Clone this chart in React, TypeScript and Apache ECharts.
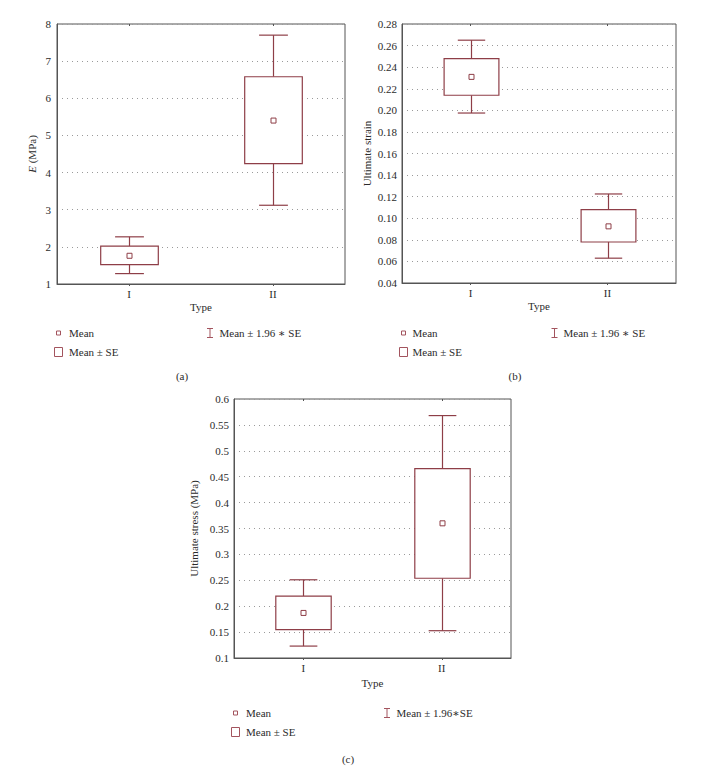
import { useEffect, useRef } from 'react';
import * as echarts from 'echarts';

// ---------- data ----------
const typeCategories = ['I', 'II'];

// (a) Young's modulus E (MPa)
const modulusMean = [1.76, 5.4];
const modulusSeLow = [1.52, 4.24];
const modulusSeHigh = [2.02, 6.58];
const modulusCiLow = [1.28, 3.12];
const modulusCiHigh = [2.27, 7.7];

// (b) Ultimate strain
const strainMean = [0.231, 0.0925];
const strainSeLow = [0.214, 0.078];
const strainSeHigh = [0.248, 0.108];
const strainCiLow = [0.1975, 0.063];
const strainCiHigh = [0.265, 0.1225];

// (c) Ultimate stress (MPa)
const stressMean = [0.187, 0.36];
const stressSeLow = [0.1546, 0.254];
const stressSeHigh = [0.2195, 0.4657];
const stressCiLow = [0.123, 0.1527];
const stressCiHigh = [0.251, 0.568];

const legendLabels = ['Mean', 'Mean ± SE', 'Mean ± 1.96 ∗ SE'];
const panelCaptions = ['(a)', '(b)', '(c)'];

// ---------- styles ----------
const FONT = '"Liberation Serif", "DejaVu Serif", "Times New Roman", serif';
const BOX_COLOR = '#8e3e47';
const LEGEND_COLOR = '#a3545e';
const AXIS_COLOR = '#555555';
const GRID_COLOR = '#9a9a9a';
const TEXT_COLOR = '#2b2b2b';

function buildRows(mean: number[], seLow: number[], seHigh: number[], ciLow: number[], ciHigh: number[]) {
  return typeCategories.map((_, i) => [i, ciLow[i], seLow[i], mean[i], seHigh[i], ciHigh[i]]);
}

const renderBox = (_params: any, api: any) => {
  const idx = api.value(0);
  const pCiLow = api.coord([idx, api.value(1)]);
  const pSeLow = api.coord([idx, api.value(2)]);
  const pMean = api.coord([idx, api.value(3)]);
  const pSeHigh = api.coord([idx, api.value(4)]);
  const pCiHigh = api.coord([idx, api.value(5)]);
  const catW = api.size([1, 0])[0];
  const boxW = catW * 0.4;
  const capW = boxW * 0.5;
  const cx = Math.round(pMean[0]) + 0.5;
  const style = { stroke: BOX_COLOR, fill: 'none', lineWidth: 1.2 };
  return {
    type: 'group',
    children: [
      { type: 'line', shape: { x1: cx, y1: pSeHigh[1], x2: cx, y2: pCiHigh[1] }, style },
      { type: 'line', shape: { x1: cx - capW / 2, y1: pCiHigh[1], x2: cx + capW / 2, y2: pCiHigh[1] }, style },
      { type: 'line', shape: { x1: cx, y1: pSeLow[1], x2: cx, y2: pCiLow[1] }, style },
      { type: 'line', shape: { x1: cx - capW / 2, y1: pCiLow[1], x2: cx + capW / 2, y2: pCiLow[1] }, style },
      {
        type: 'rect',
        shape: { x: cx - boxW / 2, y: pSeHigh[1], width: boxW, height: pSeLow[1] - pSeHigh[1] },
        style: { ...style, fill: '#ffffff' },
      },
      {
        type: 'rect',
        shape: { x: cx - 2.5, y: pMean[1] - 2.5, width: 5, height: 5 },
        style: { ...style, fill: '#ffffff', lineWidth: 1 },
      },
    ],
  };
};

type PanelSpec = {
  grid: { left: number; top: number; width: number; height: number };
  min: number;
  max: number;
  interval: number;
  formatter: (v: number) => string;
  name: string;
  nameGap: number;
  labelMargin: number;
  xNameGap: number;
  rows: number[][];
};

const panels: PanelSpec[] = [
  {
    grid: { left: 57, top: 24, width: 288, height: 260 },
    min: 1,
    max: 8,
    interval: 1,
    formatter: (v) => String(v),
    name: '{i|E} (MPa)',
    nameGap: 20,
    labelMargin: 6,
    xNameGap: 17,
    rows: buildRows(modulusMean, modulusSeLow, modulusSeHigh, modulusCiLow, modulusCiHigh),
  },
  {
    grid: { left: 402, top: 24, width: 274, height: 259 },
    min: 0.04,
    max: 0.28,
    interval: 0.02,
    formatter: (v) => v.toFixed(2),
    name: 'Ultimate strain',
    nameGap: 30,
    labelMargin: 5,
    xNameGap: 17,
    rows: buildRows(strainMean, strainSeLow, strainSeHigh, strainCiLow, strainCiHigh),
  },
  {
    grid: { left: 234, top: 399, width: 277, height: 259 },
    min: 0.1,
    max: 0.6,
    interval: 0.05,
    formatter: (v) => String(Math.round(v * 100) / 100),
    name: 'Ultimate stress (MPa)',
    nameGap: 35,
    labelMargin: 5,
    xNameGap: 19,
    rows: buildRows(stressMean, stressSeLow, stressSeHigh, stressCiLow, stressCiHigh),
  },
];

type LegendPos = {
  markX: number;
  row1: number;
  row2: number;
  textX: number;
  ciX: number;
  ciTextX: number;
  capX: number;
  capY: number;
  ciLabel: string;
};

const legendPositions: LegendPos[] = [
  { markX: 58.5, row1: 333, row2: 352, textX: 69, ciX: 210, ciTextX: 219.5, capX: 182, capY: 376, ciLabel: legendLabels[2] },
  { markX: 403.5, row1: 333, row2: 352, textX: 412.5, ciX: 554.5, ciTextX: 563.5, capX: 515, capY: 376, ciLabel: legendLabels[2] },
  { markX: 235.5, row1: 713, row2: 732, textX: 246, ciX: 387, ciTextX: 396.5, capX: 348, capY: 759, ciLabel: 'Mean ± 1.96∗SE' },
];

function textEl(text: string, x: number, y: number, align: string = 'left') {
  return {
    type: 'text',
    silent: true,
    style: {
      text,
      x,
      y,
      fill: TEXT_COLOR,
      fontSize: 11,
      fontFamily: FONT,
      textAlign: align,
      textVerticalAlign: 'middle',
      align,
      verticalAlign: 'middle',
    },
  };
}

function legendElements(p: LegendPos, caption: string) {
  const st = { stroke: LEGEND_COLOR, fill: 'none', lineWidth: 1 };
  return [
    { type: 'rect', silent: true, shape: { x: p.markX - 2, y: p.row1 - 2, width: 4, height: 4 }, style: st },
    textEl(legendLabels[0], p.textX, p.row1),
    { type: 'rect', silent: true, shape: { x: p.markX - 4, y: p.row2 - 4.5, width: 8, height: 9 }, style: st },
    textEl(legendLabels[1], p.textX, p.row2),
    { type: 'line', silent: true, shape: { x1: p.ciX, y1: p.row1 - 4.5, x2: p.ciX, y2: p.row1 + 4.5 }, style: st },
    { type: 'line', silent: true, shape: { x1: p.ciX - 3, y1: p.row1 - 4.5, x2: p.ciX + 3, y2: p.row1 - 4.5 }, style: st },
    { type: 'line', silent: true, shape: { x1: p.ciX - 3, y1: p.row1 + 4.5, x2: p.ciX + 3, y2: p.row1 + 4.5 }, style: st },
    textEl(p.ciLabel, p.ciTextX, p.row1),
    textEl(caption, p.capX, p.capY, 'center'),
  ];
}

export default function App() {
  const ref = useRef<HTMLDivElement>(null);

  useEffect(() => {
    if (!ref.current) return;
    const chart = echarts.init(ref.current, undefined, { renderer: 'svg' });

    const grid: any[] = [];
    const xAxis: any[] = [];
    const yAxis: any[] = [];
    const series: any[] = [];

    panels.forEach((p, i) => {
      grid.push({
        ...p.grid,
        show: true,
        borderColor: AXIS_COLOR,
        borderWidth: 1,
        backgroundColor: 'transparent',
      });
      xAxis.push({
        type: 'category',
        gridIndex: i,
        data: typeCategories,
        name: 'Type',
        nameLocation: 'middle',
        nameGap: p.xNameGap,
        nameTextStyle: { color: TEXT_COLOR, fontSize: 11, fontFamily: FONT },
        axisLine: { show: true, lineStyle: { color: AXIS_COLOR, width: 1 } },
        axisTick: { show: true, alignWithLabel: true, length: 2, lineStyle: { color: AXIS_COLOR } },
        axisLabel: { color: TEXT_COLOR, fontSize: 11, fontFamily: FONT, margin: 4 },
        splitLine: { show: false },
      });
      xAxis.push({
        type: 'category',
        gridIndex: i,
        position: 'top',
        data: typeCategories,
        axisLine: { show: false },
        axisTick: { show: true, inside: true, alignWithLabel: true, length: 2, lineStyle: { color: AXIS_COLOR } },
        axisLabel: { show: false },
        splitLine: { show: false },
      });
      yAxis.push({
        type: 'value',
        gridIndex: i,
        min: p.min,
        max: p.max,
        interval: p.interval,
        name: p.name,
        nameLocation: 'middle',
        nameGap: p.nameGap,
        nameTextStyle: {
          color: TEXT_COLOR,
          fontSize: 11,
          fontFamily: FONT,
          rich: { i: { fontStyle: 'italic', fontSize: 11, fontFamily: FONT, color: TEXT_COLOR } },
        },
        axisLine: { show: true, lineStyle: { color: AXIS_COLOR, width: 1 } },
        axisTick: { show: false },
        axisLabel: { color: TEXT_COLOR, fontSize: 11, fontFamily: FONT, margin: p.labelMargin, formatter: p.formatter },
        splitLine: { show: true, lineStyle: { color: GRID_COLOR, width: 1, type: [1, 4] } },
      });
      series.push({
        type: 'custom',
        name: p.name,
        xAxisIndex: i * 2,
        yAxisIndex: i,
        renderItem: renderBox,
        encode: { x: 0, y: [1, 2, 3, 4, 5] },
        data: p.rows,
        clip: false,
      });
    });

    const graphic: any[] = [];
    legendPositions.forEach((lp, i) => {
      graphic.push(...legendElements(lp, panelCaptions[i]));
    });

    chart.setOption({
      animation: false,
      backgroundColor: '#ffffff',
      textStyle: { fontFamily: FONT },
      grid,
      xAxis,
      yAxis,
      series,
      graphic,
    });

    return () => chart.dispose();
  }, []);

  return (
    <div
      ref={ref}
      style={{ position: 'fixed', left: 0, top: 0, width: 710, height: 773, background: '#fff' }}
    />
  );
}
